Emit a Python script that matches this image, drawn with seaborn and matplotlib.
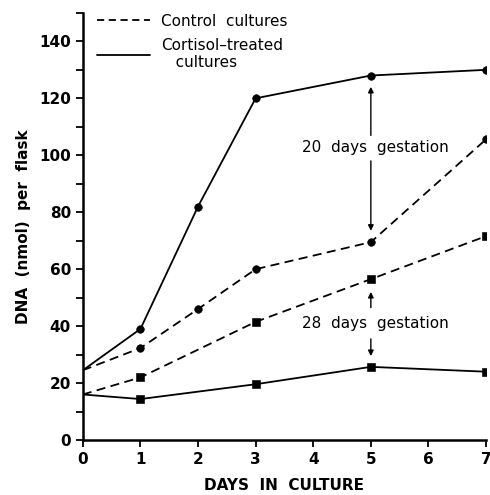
import pandas as pd
import matplotlib.pyplot as plt
import seaborn as sns
from matplotlib.lines import Line2D
from matplotlib.ticker import MultipleLocator

# Data
days = [0, 1, 2, 3, 5, 7]
cort_20 = [24.5, 39, 82, 120, 128, 130]
ctrl_20 = [24.5, 32.3, 46, 60, 69.5, 105.6]
days_28 = [0, 1, 3, 5, 7]
ctrl_28 = [16, 22, 41.5, 56.5, 71.6]
cort_28 = [16, 14.4, 19.6, 25.7, 24]

sns.set_style("ticks")
plt.rcParams['font.family'] = ['DejaVu Sans']
plt.rcParams['text.color'] = 'black'
plt.rcParams['axes.labelcolor'] = 'black'
plt.rcParams['xtick.color'] = 'black'
plt.rcParams['ytick.color'] = 'black'
plt.rcParams['axes.edgecolor'] = 'black'


def make_df():
    rows = []
    for name, xs, ys, treat, mark in [
        ("cort_20", days, cort_20, "Cortisol", "o"),
        ("ctrl_20", days, ctrl_20, "Control", "o"),
        ("ctrl_28", days_28, ctrl_28, "Control", "s"),
        ("cort_28", days_28, cort_28, "Cortisol", "s"),
    ]:
        for x, y in zip(xs, ys):
            rows.append({"series": name, "day": x, "dna": y, "treat": treat, "mark": mark})
    return pd.DataFrame(rows)


df = make_df()

fig = plt.figure(figsize=(4.9, 4.95), dpi=100)
ax = fig.add_axes([0.169, 0.111, 0.823, 0.863])

for name, sub in df.groupby("series", sort=False):
    ls = "--" if sub["treat"].iloc[0] == "Control" else "-"
    sns.lineplot(data=sub, x="day", y="dna", color="black", linewidth=1.3,
                 linestyle=ls, ax=ax, legend=False)
    if ls == "--":
        ax.lines[-1].set_dashes((5, 3))
    pts = sub[sub["day"] > 0]
    sns.scatterplot(data=pts, x="day", y="dna", color="black",
                    marker=sub["mark"].iloc[0], s=30, edgecolor="black",
                    ax=ax, legend=False, zorder=3)

# gestation annotations
arrow = dict(arrowstyle="-|>", color="black", lw=1, mutation_scale=8)
ax.annotate("", xy=(5, 125), xytext=(5, 106), arrowprops=arrow)
ax.annotate("", xy=(5, 72.5), xytext=(5, 99), arrowprops=arrow)
ax.text(5.08, 102.8, "20  days  gestation", ha="center", va="center", fontsize=11)
ax.annotate("", xy=(5, 53), xytext=(5, 45.5), arrowprops=arrow)
ax.annotate("", xy=(5, 28.5), xytext=(5, 36.5), arrowprops=arrow)
ax.text(5.08, 41, "28  days  gestation", ha="center", va="center", fontsize=11)

# legend
handles = [
    Line2D([], [], color="black", lw=1.3, dashes=(4, 2.5)),
    Line2D([], [], color="black", lw=1.3),
]
ax.legend(handles, ["Control  cultures", "Cortisol\u2013treated\n   cultures"],
          loc="upper left", bbox_to_anchor=(0.0, 1.03), frameon=False,
          fontsize=11, handlelength=3.5, handletextpad=0.7, labelspacing=0.6)

ax.set_xlim(0, 7)
ax.set_ylim(0, 150)
ax.set_xticks(range(0, 8))
ax.set_yticks(range(0, 141, 20))
ax.yaxis.set_minor_locator(MultipleLocator(10))
ax.tick_params(axis="both", which="major", labelsize=11, width=1.3, length=5)
ax.tick_params(axis="y", which="minor", width=1.3, length=5)
for lab in ax.get_xticklabels() + ax.get_yticklabels():
    lab.set_fontweight("bold")

ax.set_xlabel("DAYS  IN  CULTURE", fontsize=11, fontweight="bold", labelpad=8)
ax.set_ylabel("DNA  (nmol)  per  flask", fontsize=11, fontweight="bold", labelpad=6)
sns.despine(ax=ax)
for sp in ["left", "bottom"]:
    ax.spines[sp].set_linewidth(1.8)

fig.savefig("out.png", dpi=100)
